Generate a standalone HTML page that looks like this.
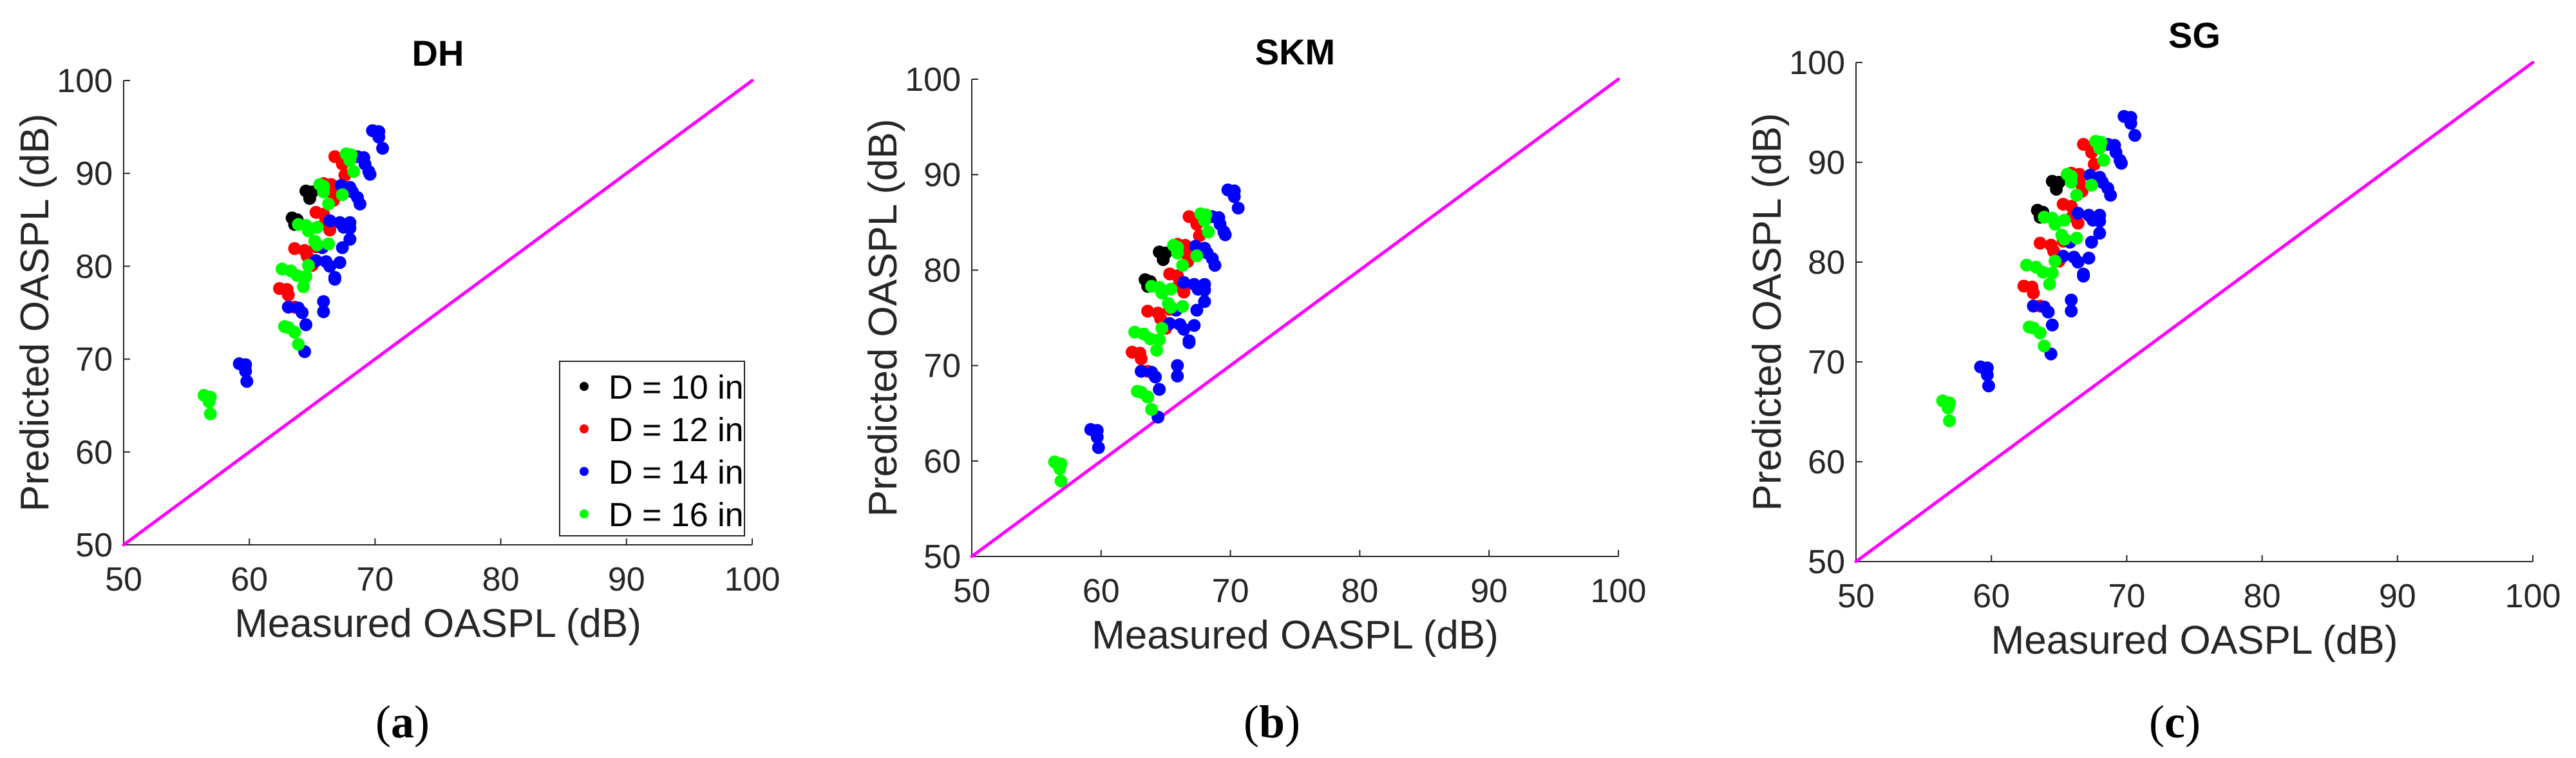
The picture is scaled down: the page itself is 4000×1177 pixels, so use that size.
<!DOCTYPE html>
<html><head><meta charset="utf-8">
<style>
html,body{margin:0;padding:0;background:#fff;}
svg{display:block;font-family:"Liberation Sans",sans-serif;}
</style></head>
<body>
<svg id="fig" width="4000" height="1177" viewBox="0 0 4000 1177" xmlns="http://www.w3.org/2000/svg"></svg>
<script>
// ---- data ----
const tickValues = [50, 60, 70, 80, 90, 100];
const panelTitles = ["DH", "SKM", "SG"];
const panelLetters = ["a", "b", "c"];
const legendLabels = ["D = 10 in", "D = 12 in", "D = 14 in", "D = 16 in"];

const blackX = [63.4, 63.8, 63.6, 64.5, 65.0, 64.8];
const blackDH = [85.2, 85.0, 84.5, 88.1, 88.0, 87.3];
const blackSKM = [79.0, 78.8, 78.3, 81.9, 81.8, 81.1];
const blackSG = [85.2, 85.0, 84.5, 88.1, 88.0, 87.3];

const redX = [66.8, 67.4, 67.4, 67.6, 65.9, 66.5, 66.5, 66.7, 65.3, 65.9, 66.0, 66.4, 63.6, 64.4, 64.6, 65.0, 62.4, 63.0, 63.1, 63.6, 65.3];
const redDH = [91.8, 91.5, 91.0, 89.8, 88.9, 88.8, 88.0, 87.1, 85.8, 85.6, 84.6, 83.9, 81.9, 81.7, 81.1, 80.1, 77.6, 77.5, 76.9, 75.6, 82.1];
const redSKM = [85.6, 85.3, 84.8, 83.6, 82.7, 82.6, 81.8, 80.9, 79.6, 79.4, 78.4, 77.7, 75.7, 75.5, 74.9, 73.9, 71.4, 71.3, 70.7, 69.4, 75.9];
const redSG = [91.8, 91.5, 91.0, 89.8, 88.9, 88.8, 88.0, 87.1, 85.8, 85.6, 84.6, 83.9, 81.9, 81.7, 81.1, 80.1, 77.6, 77.5, 76.9, 75.6, 82.1];

const blueX = [69.8, 70.3, 70.3, 70.6, 68.6, 69.1, 69.2, 69.5, 69.6, 67.3, 68.0, 68.2, 68.6, 68.8, 66.4, 67.2, 67.5, 68.0, 68.0, 68.0, 67.4, 65.8, 65.3, 66.1, 66.4, 67.2, 66.8, 66.8, 65.9, 65.9, 63.1, 63.9, 64.2, 64.5, 64.4, 59.2, 59.7, 59.7, 59.8];
const blueDH = [94.6, 94.5, 93.9, 92.7, 91.8, 91.7, 91.0, 90.2, 89.9, 88.7, 88.5, 88.0, 87.4, 86.7, 84.9, 84.7, 84.2, 84.7, 84.1, 82.9, 82.0, 82.0, 80.6, 80.5, 80.0, 80.4, 78.8, 78.6, 76.2, 75.1, 75.6, 75.5, 75.0, 73.7, 70.8, 69.5, 69.4, 68.7, 67.6];
const blueSKM = [88.4, 88.3, 87.7, 86.5, 85.6, 85.5, 84.8, 84.0, 83.7, 82.5, 82.3, 81.8, 81.2, 80.5, 78.7, 78.5, 78.0, 78.5, 77.9, 76.7, 75.8, 75.8, 74.4, 74.3, 73.8, 74.2, 72.6, 72.4, 70.0, 68.9, 69.4, 69.3, 68.8, 67.5, 64.6, 63.3, 63.2, 62.5, 61.4];
const blueSG = [94.6, 94.5, 93.9, 92.7, 91.8, 91.7, 91.0, 90.2, 89.9, 88.7, 88.5, 88.0, 87.4, 86.7, 84.9, 84.7, 84.2, 84.7, 84.1, 82.9, 82.0, 82.0, 80.6, 80.5, 80.0, 80.4, 78.8, 78.6, 76.2, 75.1, 75.6, 75.5, 75.0, 73.7, 70.8, 69.5, 69.4, 68.7, 67.6];

const greenX = [67.7, 68.1, 68.0, 68.3, 65.6, 65.9, 65.9, 67.4, 66.3, 63.9, 64.5, 64.7, 65.4, 65.2, 65.4, 66.3, 64.7, 62.6, 63.3, 63.8, 64.5, 64.3, 62.8, 63.1, 63.6, 63.9, 56.4, 56.9, 56.8, 56.9];
const greenDH = [92.1, 92.0, 91.4, 90.2, 88.8, 88.6, 88.0, 87.7, 86.7, 84.5, 84.4, 83.8, 84.2, 82.7, 82.3, 82.4, 80.1, 79.7, 79.5, 79.0, 78.9, 77.8, 73.5, 73.4, 72.9, 71.6, 66.1, 65.9, 65.4, 64.1];
const greenSKM = [85.9, 85.8, 85.2, 84.0, 82.6, 82.4, 81.8, 81.5, 80.5, 78.3, 78.2, 77.6, 78.0, 76.5, 76.1, 76.2, 73.9, 73.5, 73.3, 72.8, 72.7, 71.6, 67.3, 67.2, 66.7, 65.4, 59.9, 59.7, 59.2, 57.9];
const greenSG = [92.1, 92.0, 91.4, 90.2, 88.8, 88.6, 88.0, 87.7, 86.7, 84.5, 84.4, 83.8, 84.2, 82.7, 82.3, 82.4, 80.1, 79.7, 79.5, 79.0, 78.9, 77.8, 73.5, 73.4, 72.9, 71.6, 66.1, 65.9, 65.4, 64.1];

// ---- layout ----
const NS = "http://www.w3.org/2000/svg";
const svg = document.getElementById("fig");
const panels = [
  {L:192, T:125, R:1168, B:846, cap:625, ys:[blackDH, redDH, blueDH, greenDH]},
  {L:1509, T:123, R:2513, B:864, cap:1975, ys:[blackSKM, redSKM, blueSKM, greenSKM]},
  {L:2882, T:97, R:3933, B:872, cap:3377, ys:[blackSG, redSG, blueSG, greenSG]}
];
const seriesX = [blackX, redX, blueX, greenX];
const colors = ["#000000", "#ff0000", "#0000ff", "#00ff00"];
const seriesNames = ["d10", "d12", "d14", "d16"];

function mk(tag, attrs, parent) {
  const e = document.createElementNS(NS, tag);
  for (const k in attrs) e.setAttribute(k, attrs[k]);
  (parent || svg).appendChild(e);
  return e;
}

panels.forEach((p, pi) => {
  const g = mk("g", {});
  
  
  const sx = v => p.L + (v - 50) / 50 * (p.R - p.L);
  const sy = v => p.B - (v - 50) / 50 * (p.B - p.T);
  const cx = (p.L + p.R) / 2, cy = (p.T + p.B) / 2;

  // axes
  const ax = mk("path", {d:`M${p.L},${p.T} L${p.L},${p.B} L${p.R},${p.B}`, fill:"none", stroke:"#262626", "stroke-width":2}, g);
  
  

  tickValues.forEach(v => {
    const tx = mk("line", {x1:sx(v), x2:sx(v), y1:p.B, y2:p.B-10, stroke:"#262626", "stroke-width":2}, g);
    
    
    const ty = mk("line", {x1:p.L, x2:p.L+10, y1:sy(v), y2:sy(v), stroke:"#262626", "stroke-width":2}, g);
    
    
    const lx = mk("text", {x:sx(v), y:p.B+71, "font-size":52, fill:"#262626", "text-anchor":"middle"}, g);
    lx.textContent = v;
    
    
    const ly = mk("text", {x:p.L-17, y:sy(v)+18, "font-size":52, fill:"#262626", "text-anchor":"end"}, g);
    ly.textContent = v;
    
    
  });

  // identity line
  const diag = mk("line", {x1:sx(50), y1:sy(50), x2:sx(100), y2:sy(100), stroke:"#ff00ff", "stroke-width":5, "stroke-linecap":"round"}, g);
  
  

  // points
  seriesX.forEach((xs, si) => {
    const ys = p.ys[si];
    xs.forEach((xv, k) => {
      const c = mk("circle", {cx:sx(xv), cy:sy(ys[k]), r:10, fill:colors[si]}, g);
      
      
    });
  });

  // labels
  const t = mk("text", {x:cx, y:p.T-23, "font-size":56, "font-weight":"bold", fill:"#000", "text-anchor":"middle"}, g);
  t.textContent = panelTitles[pi];
  
  
  const xl = mk("text", {x:cx, y:p.B+143, "font-size":62, fill:"#262626", "text-anchor":"middle"}, g);
  xl.textContent = "Measured OASPL (dB)";
  
  
  const yl = mk("text", {x:0, y:0, "font-size":62, fill:"#262626", "text-anchor":"middle", transform:`translate(${p.L-117},${cy}) rotate(-90)`}, g);
  yl.textContent = "Predicted OASPL (dB)";
  
  
  const cap = mk("text", {x:p.cap, y:1145, "font-size":72, "font-family":"Liberation Serif, serif", fill:"#000", "text-anchor":"middle"}, g);
  cap.innerHTML = '(<tspan font-weight="bold">' + panelLetters[pi] + '</tspan>)';
  
  

  // legend (panel a only)
  if (pi === 0) {
    const lg = mk("g", {}, g);
    
    
    const box = mk("rect", {x:869, y:561, width:287, height:271, fill:"#fff", stroke:"#262626", "stroke-width":2}, lg);
    
    
    legendLabels.forEach((lab, i) => {
      const yy = 600 + i * 66;
      const m = mk("circle", {cx:907, cy:yy, r:7, fill:colors[i]}, lg);
      
      
      const tx = mk("text", {x:945, y:yy+19, "font-size":52, fill:"#000"}, lg);
      tx.textContent = lab;
      
      
    });
  }
});
</script>
</body></html>
